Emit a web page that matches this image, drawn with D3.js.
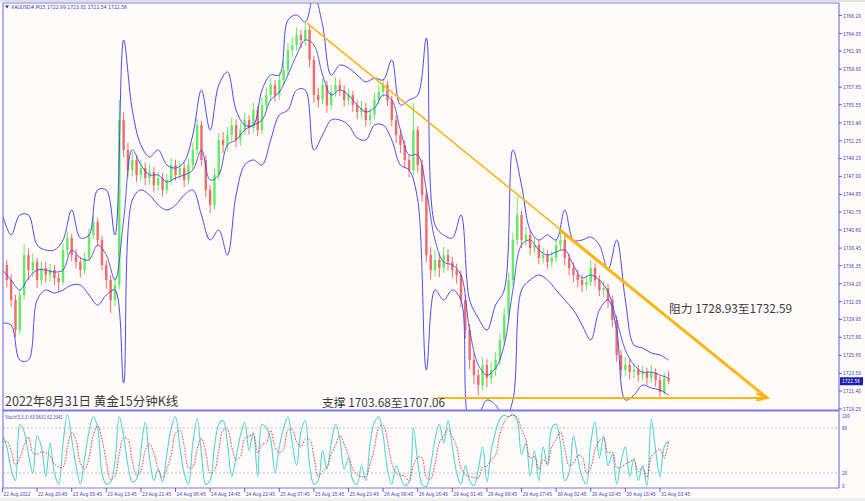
<!DOCTYPE html>
<html><head><meta charset="utf-8">
<script src="https://cdn.jsdelivr.net/npm/d3@7"></script>
<style>html,body{margin:0;padding:0;background:#f0f0f0;overflow:hidden;} svg{display:block;}</style>
</head><body><svg id="c" width="865" height="501"></svg>
<script>
// ---------- DATA (hourly aggregated XAUUSD candles) ----------
const opens = [1736.00,1736.43,1734.64,1732.25,1728.67,1732.85,1737.62,1735.83,1736.79,1734.64,
1736.07,1735.24,1735.83,1734.88,1734.40,1738.22,1739.65,1737.62,1736.79,1735.83,
1737.26,1740.01,1741.56,1739.41,1736.43,1734.64,1732.25,1734.04,1753.73,1750.15,
1747.76,1748.96,1747.17,1748.00,1746.81,1747.53,1745.97,1746.81,1745.38,1746.57,
1748.36,1747.17,1748.00,1746.57,1748.36,1750.15,1753.13,1748.96,1745.38,1743.59,
1747.17,1751.35,1750.75,1751.94,1753.13,1751.35,1752.54,1753.73,1752.78,1754.92,
1752.54,1755.52,1756.71,1757.91,1756.71,1758.50,1759.70,1762.08,1762.68,1763.87,
1763.28,1764.47,1760.89,1756.71,1756.12,1757.91,1755.52,1757.07,1757.91,1757.31,
1756.12,1756.71,1755.52,1754.69,1755.16,1753.73,1754.33,1756.12,1757.07,1757.91,
1756.12,1753.73,1751.94,1750.75,1748.96,1747.76,1752.54,1748.36,1744.78,1737.62,
1735.83,1737.02,1736.07,1737.62,1736.79,1735.83,1735.24,1732.25,1728.67,1725.09,
1723.30,1722.11,1724.50,1722.95,1723.90,1725.09,1727.48,1730.46,1734.64,1739.41,
1742.40,1739.41,1740.01,1738.46,1738.82,1737.26,1737.62,1736.79,1737.26,1738.82,
1739.41,1737.26,1736.07,1735.24,1734.64,1734.04,1734.40,1736.07,1734.64,1733.45,
1733.68,1732.25,1729.87,1725.69,1723.90,1724.50,1723.66,1723.90,1723.30,1723.66,
1722.95,1723.66,1722.71,1721.27,1722.95];
const highs = [1737.4,1737.0,1735.3,1732.9,1733.6,1738.9,1738.4,1737.8,1737.3,1736.9,
1736.8,1736.6,1736.4,1735.5,1739.0,1740.4,1740.1,1738.3,1737.4,1738.0,
1740.8,1742.4,1742.0,1739.9,1737.0,1735.2,1735.0,1756.1,1754.6,1751.0,
1749.9,1749.6,1749.0,1748.7,1748.5,1748.1,1747.6,1747.4,1747.3,1749.2,
1749.0,1748.8,1748.6,1749.1,1751.0,1753.9,1753.6,1749.5,1746.0,1748.0,
1752.2,1752.3,1752.9,1754.0,1753.8,1753.4,1754.6,1754.3,1755.8,1755.4,
1756.4,1757.6,1758.8,1758.5,1759.4,1760.6,1762.9,1763.6,1764.8,1764.5,
1765.3,1765.0,1761.4,1757.6,1758.7,1758.4,1757.9,1758.8,1758.6,1757.9,
1757.5,1757.2,1756.1,1756.0,1755.8,1755.2,1757.0,1757.9,1758.7,1758.4,
1756.6,1754.3,1752.6,1751.3,1749.6,1755.8,1753.0,1749.0,1745.4,1738.6,
1738.2,1737.8,1738.6,1738.3,1737.4,1736.6,1735.8,1732.9,1729.4,1725.9,
1724.0,1725.4,1725.2,1724.8,1726.0,1728.3,1731.3,1735.5,1740.3,1744.6,
1742.9,1741.0,1740.6,1739.7,1739.4,1738.5,1738.2,1738.1,1739.7,1740.4,
1739.9,1737.8,1736.7,1735.9,1735.3,1735.2,1737.0,1736.6,1735.2,1734.5,
1734.2,1732.8,1730.4,1726.3,1725.4,1725.2,1724.7,1724.5,1724.4,1724.2,
1724.5,1724.1,1723.2,1723.6,1723.8];
const lows = [1735.2,1733.8,1731.4,1727.8,1728.2,1732.3,1734.6,1735.0,1733.7,1734.0,
1734.3,1734.5,1734.0,1733.2,1734.0,1737.6,1736.9,1736.0,1735.0,1735.3,
1736.9,1739.5,1738.6,1735.8,1733.6,1730.7,1731.5,1733.5,1749.3,1746.9,
1747.0,1746.3,1746.5,1745.9,1746.0,1745.1,1745.3,1744.6,1744.9,1746.0,
1746.5,1746.6,1745.7,1746.0,1747.8,1749.6,1748.2,1744.5,1742.6,1743.0,
1746.6,1749.8,1750.0,1751.2,1750.5,1750.7,1752.0,1752.0,1752.2,1751.8,
1752.0,1755.0,1756.0,1755.9,1756.1,1757.9,1759.1,1761.3,1762.0,1762.3,
1762.6,1760.0,1755.8,1755.2,1755.6,1754.6,1755.0,1756.5,1756.6,1755.3,
1755.5,1754.7,1753.8,1754.0,1752.9,1753.1,1753.8,1755.6,1756.5,1755.4,
1753.0,1751.0,1749.8,1748.0,1746.9,1747.2,1747.5,1744.0,1736.8,1734.7,
1735.1,1735.0,1735.5,1735.8,1734.9,1734.2,1731.4,1727.6,1724.0,1722.2,
1720.9,1721.5,1721.8,1722.2,1723.2,1724.5,1726.9,1729.9,1734.0,1738.8,
1738.5,1738.7,1737.6,1737.8,1736.5,1736.6,1736.0,1736.2,1736.7,1738.2,
1736.4,1735.2,1734.4,1733.8,1733.2,1733.4,1733.9,1733.9,1732.7,1732.6,
1731.3,1729.0,1724.9,1723.0,1723.2,1722.8,1722.9,1722.5,1722.7,1722.1,
1722.4,1721.9,1720.7,1720.9,1722.2];
const closes = [1736.43,1734.64,1732.25,1728.67,1732.85,1737.62,1735.83,1736.79,1734.64,1736.07,
1735.24,1735.83,1734.88,1734.40,1738.22,1739.65,1737.62,1736.79,1735.83,1737.26,
1740.01,1741.56,1739.41,1736.43,1734.64,1732.25,1734.04,1753.73,1750.15,1747.76,
1748.96,1747.17,1748.00,1746.81,1747.53,1745.97,1746.81,1745.38,1746.57,1748.36,
1747.17,1748.00,1746.57,1748.36,1750.15,1753.13,1748.96,1745.38,1743.59,1747.17,
1751.35,1750.75,1751.94,1753.13,1751.35,1752.54,1753.73,1752.78,1754.92,1752.54,
1755.52,1756.71,1757.91,1756.71,1758.50,1759.70,1762.08,1762.68,1763.87,1763.28,
1764.47,1760.89,1756.71,1756.12,1757.91,1755.52,1757.07,1757.91,1757.31,1756.12,
1756.71,1755.52,1754.69,1755.16,1753.73,1754.33,1756.12,1757.07,1757.91,1756.12,
1753.73,1751.94,1750.75,1748.96,1747.76,1752.54,1748.36,1744.78,1737.62,1735.83,
1737.02,1736.07,1737.62,1736.79,1735.83,1735.24,1732.25,1728.67,1725.09,1723.30,
1722.11,1724.50,1722.95,1723.90,1725.09,1727.48,1730.46,1734.64,1739.41,1742.40,
1739.41,1740.01,1738.46,1738.82,1737.26,1737.62,1736.79,1737.26,1738.82,1739.41,
1737.26,1736.07,1735.24,1734.64,1734.04,1734.40,1736.07,1734.64,1733.45,1733.68,
1732.25,1729.87,1725.69,1723.90,1724.50,1723.66,1723.90,1723.30,1723.66,1722.95,
1723.66,1722.71,1721.27,1722.95,1722.56];

// Bollinger bands, sampled every 2 candles
const BAND_STEP = 2;
const bbUpper = [1742.40,1740.01,1742.40,1742.40,1738.82,1738.22,1738.22,1739.41,1742.99,1739.65,
1740.01,1745.38,1745.38,1740.01,1763.28,1754.92,1750.75,1749.32,1750.15,1748.36,
1748.00,1748.72,1751.94,1757.31,1752.54,1757.91,1759.46,1754.92,1753.13,1753.13,
1757.31,1759.10,1759.10,1765.66,1766.26,1765.42,1768.65,1765.07,1759.10,1760.29,
1759.94,1759.10,1758.27,1758.74,1758.50,1760.89,1755.52,1756.12,1756.71,1763.52,
1741.20,1740.01,1739.65,1742.40,1732.25,1730.11,1728.67,1731.66,1733.45,1750.15,
1745.97,1740.60,1739.41,1740.01,1739.41,1742.99,1739.41,1739.41,1739.77,1738.82,
1735.83,1739.41,1732.25,1726.88,1726.53,1725.93,1725.69,1725.09];
const bbMiddle = [1735.83,1734.64,1733.45,1734.88,1735.83,1735.83,1735.59,1735.83,1738.22,1737.27,
1737.03,1738.82,1737.62,1734.64,1741.80,1750.15,1748.36,1747.17,1747.17,1746.33,
1746.81,1747.17,1747.76,1750.15,1746.57,1747.17,1750.75,1751.35,1752.54,1753.13,
1753.73,1756.12,1757.07,1759.10,1761.49,1763.28,1762.68,1759.10,1756.71,1757.31,
1756.71,1755.52,1754.69,1755.16,1756.71,1756.12,1752.54,1749.56,1749.56,1745.38,
1739.41,1736.79,1736.43,1735.24,1728.67,1724.50,1723.30,1724.14,1726.88,1733.45,
1738.82,1739.41,1738.22,1737.62,1737.98,1738.22,1736.43,1734.88,1735.24,1734.64,
1733.21,1729.87,1726.29,1724.50,1723.66,1723.66,1723.30,1722.95];
const bbLower = [1729.51,1729.27,1725.09,1725.09,1732.25,1733.45,1733.09,1733.45,1734.04,1734.04,
1732.85,1731.66,1732.85,1733.45,1722.35,1744.18,1745.38,1744.78,1743.59,1742.99,
1743.59,1744.78,1745.38,1742.40,1739.41,1740.60,1737.62,1744.78,1748.36,1748.96,
1748.36,1751.35,1754.33,1754.92,1757.31,1757.31,1750.15,1751.94,1753.73,1753.73,
1753.13,1751.58,1751.35,1753.13,1753.13,1751.35,1748.36,1747.76,1744.18,1723.90,
1733.45,1732.25,1733.45,1732.25,1717.94,1718.53,1720.32,1719.73,1717.94,1720.32,
1733.45,1734.64,1735.24,1734.64,1733.45,1732.25,1731.06,1729.27,1727.48,1731.06,
1732.25,1728.67,1720.32,1720.92,1722.11,1721.75,1721.52,1720.92];

// Stochastic (5,3,3)
const stochK = [70,55,25,10,85,75,45,20,70,55,15,60,20,5,60,98,65,30,5,40,
75,95,80,20,5,8,35,95,70,30,8,12,50,88,40,10,25,8,45,80,
95,55,20,5,60,92,45,5,10,55,85,90,60,15,40,70,88,50,75,15,
85,80,65,20,55,80,95,60,30,75,90,30,5,10,50,25,60,85,65,25,
40,10,5,30,10,60,88,95,70,25,5,30,15,3,8,80,35,5,2,30,
65,85,60,90,55,20,5,30,10,3,25,55,8,50,75,92,97,95,98,90,
45,60,15,50,10,55,30,80,85,60,10,20,70,40,15,5,60,88,40,70,
30,45,5,35,55,15,40,10,30,3,92,50,15,55,63.0631];
const stochD = [60,62,50,30,40,57,68,47,45,48,47,43,32,28,28,54,74,64,33,25,
40,70,83,65,35,11,16,46,67,65,36,17,23,50,59,46,25,14,26,44,
73,77,57,27,28,52,66,47,20,23,50,77,78,55,38,42,66,69,71,47,
58,60,77,55,47,52,77,78,62,55,65,65,42,15,22,28,45,57,70,58,
43,25,18,15,15,33,53,81,84,63,33,20,17,16,9,30,41,40,14,12,
32,60,70,78,68,55,27,18,15,14,13,28,29,38,44,72,88,95,97,94,
78,65,40,42,25,38,32,55,65,75,52,30,33,43,42,20,27,51,63,66,
47,48,27,28,32,35,37,22,27,14,42,48,52,40,62.3341];

const priceTicks = [1766.20,1764.05,1761.95,1759.80,1757.65,1755.55,1753.40,1751.25,1749.15,1747.00,
1744.85,1742.75,1740.60,1738.45,1736.35,1734.20,1732.05,1729.95,1727.80,1725.65,1723.50,1721.40,1719.25];
const stochTicks = [100,80,20,0];
const stochLevels = [80,20];
const timeLabels = ["22 Aug 2022","22 Aug 20:45","23 Aug 05:45","23 Aug 13:45","23 Aug 21:45","24 Aug 06:45",
"24 Aug 14:45","24 Aug 22:45","25 Aug 07:45","25 Aug 15:45","25 Aug 23:45","26 Aug 08:45","26 Aug 16:45",
"29 Aug 01:45","29 Aug 09:45","29 Aug 17:45","30 Aug 02:45","30 Aug 10:45","30 Aug 18:45","31 Aug 03:45"];
const timeLabelIndex = [0,8,16,24,32,40,48,56,64,72,80,88,96,104,112,120,128,136,144,152];
const lastPrice = 1722.56;
const header = "XAUUSD#,M15  1722.99 1723.01 1722.54 1722.56";
const stochTitle = "Stoch(5,3,3) 63.0631 62.3341";
// trend annotations (candle index, price)
const resistanceLine = [[70.4,1765.3],[176.8,1720.56]];
const resistanceThick = [[128.9,1740.58],[176.8,1720.56]];
const supportLine = [[100.5,1720.56],[176.8,1720.56]];
const titleText = "2022年8月31日 黄金15分钟K线";
const supportText = "支撑 1703.68至1707.06";
const resistText = "阻力 1728.93至1732.59";

// ---------- DRAW ----------
const W = 865, H = 501;
const L = 3, R = 839, T = 3, MB = 410, ST = 412, SB = 488;
const svg = d3.select('#c');
const axisFont = "'DejaVu Sans',sans-serif";
const axisColor = '#3c3cb4';
const frameColor = '#7a7ae8';

svg.append('rect').attr('x',0).attr('y',0).attr('width',W).attr('height',H).attr('fill','#f0f0f0');
svg.append('rect').attr('x',0).attr('y',2).attr('width',W).attr('height',496).attr('fill','#fffbfb');

const x = d3.scaleLinear().domain([0,193.4]).range([2.5,839]);
const y = d3.scaleLinear().domain([1719.25,1766.20]).range([409,15.5]);
const ys = d3.scaleLinear().domain([0,100]).range([488,413]);

const defs = svg.append('defs');
defs.append('clipPath').attr('id','cm').append('rect').attr('x',L).attr('y',T).attr('width',R-L).attr('height',MB-T);
defs.append('clipPath').attr('id','cs').append('rect').attr('x',L).attr('y',ST).attr('width',R-L).attr('height',SB-ST);

function smallText(g, tx, ty, str, len, fill){
  const t = g.append('text').attr('x',tx).attr('y',ty).attr('font-family',axisFont).attr('font-size',5.6)
    .attr('fill',fill || axisColor).text(str);
  if (len) t.attr('textLength',len).attr('lengthAdjust','spacingAndGlyphs');
  return t;
}

const main = svg.append('g').attr('clip-path','url(#cm)');

// candles
const bull = '#62ec62', bear = '#f26a6a';
const candles = main.append('g');
closes.forEach((c,i)=>{
  const o = opens[i];
  const col = c >= o ? bull : bear;
  const cx = x(i);
  candles.append('line').attr('x1',cx).attr('x2',cx)
    .attr('y1',y(highs[i])).attr('y2',y(lows[i])).attr('stroke',col).attr('stroke-width',1);
  const top = y(Math.max(o,c)), bot = y(Math.min(o,c));
  candles.append('rect').attr('x',cx-1.2).attr('width',2.4)
    .attr('y',top).attr('height',Math.max(1,bot-top)).attr('fill',col);
});

// bollinger bands
const bandLine = d3.line().x((d,k)=>x(k*BAND_STEP)).y(d=>y(d)).curve(d3.curveCatmullRom.alpha(0.5));
main.append('path').attr('d',bandLine(bbUpper)).attr('fill','none').attr('stroke','#4b4bf5').attr('stroke-width',1);
main.append('path').attr('d',bandLine(bbLower)).attr('fill','none').attr('stroke','#4b4bf5').attr('stroke-width',1);
main.append('path').attr('d',bandLine(bbMiddle)).attr('fill','none').attr('stroke','#4848e8').attr('stroke-width',0.9);

// trend lines
const tl = d3.line().x(d=>x(d[0])).y(d=>y(d[1]));
const gold = '#fbb514';
main.append('path').attr('d',tl(resistanceLine)).attr('stroke',gold).attr('stroke-width',1.6).attr('fill','none');
main.append('path').attr('d',tl(resistanceThick)).attr('stroke',gold).attr('stroke-width',3).attr('fill','none');
main.append('path').attr('d',tl(supportLine)).attr('stroke',gold).attr('stroke-width',1.8).attr('fill','none');
const ex = x(supportLine[1][0]), ey = y(supportLine[1][1]);
main.append('path').attr('d',`M${ex-11},${ey-4.5} L${ex},${ey} L${ex-11},${ey+2.5}`)
  .attr('stroke',gold).attr('stroke-width',2.2).attr('fill','none').attr('stroke-linejoin','miter');

// annotation texts
const cjk = "'Noto Sans CJK SC','Noto Sans',sans-serif";
svg.append('text').attr('x',5).attr('y',406).attr('font-family',cjk).attr('font-size',12.5)
  .attr('fill','#3a3a3a').text(titleText);
svg.append('text').attr('x',322).attr('y',407).attr('font-family',cjk).attr('font-size',11.8)
  .attr('fill','#3a3a3a').text(supportText);
svg.append('text').attr('x',669).attr('y',313).attr('font-family',cjk).attr('font-size',11.8)
  .attr('fill','#3a3a3a').text(resistText);

// stochastic panel
const stoch = svg.append('g').attr('clip-path','url(#cs)');
stochLevels.forEach(v=>{
  stoch.append('line').attr('x1',L).attr('x2',R).attr('y1',ys(v)).attr('y2',ys(v))
    .attr('stroke','#bdbdbd').attr('stroke-width',1).attr('stroke-dasharray','2,2');
});
const sl = d3.line().x((d,i)=>x(i)).y(d=>ys(d)).curve(d3.curveCatmullRom.alpha(0.5));
stoch.append('path').attr('d',sl(stochK)).attr('fill','none').attr('stroke','#52d6cc').attr('stroke-width',1.1);
stoch.append('path').attr('d',sl(stochD)).attr('fill','none').attr('stroke','#f03a3a').attr('stroke-width',1).attr('stroke-dasharray','1.5,1.5');
smallText(svg, 5, 419, stochTitle, 58);

// frames
svg.append('line').attr('x1',L).attr('x2',L).attr('y1',T).attr('y2',SB).attr('stroke',frameColor).attr('stroke-width',1.2);
svg.append('line').attr('x1',R).attr('x2',R).attr('y1',T).attr('y2',SB).attr('stroke',frameColor).attr('stroke-width',1.2);
svg.append('line').attr('x1',L).attr('x2',R).attr('y1',T).attr('y2',T).attr('stroke',frameColor).attr('stroke-width',1);
svg.append('line').attr('x1',L).attr('x2',R).attr('y1',MB+0.5).attr('y2',MB+0.5).attr('stroke',frameColor).attr('stroke-width',2);
svg.append('line').attr('x1',L).attr('x2',R).attr('y1',SB).attr('y2',SB).attr('stroke',frameColor).attr('stroke-width',1.2);
svg.append('line').attr('x1',0).attr('x2',W).attr('y1',1).attr('y2',1).attr('stroke','#cfcfcf').attr('stroke-width',1);

// header
svg.append('path').attr('d','M5,5.5 L9,5.5 L7,8.5 Z').attr('fill','#3030a0');
smallText(svg, 11, 9, header, 116);

// right price axis
const ra = svg.append('g');
priceTicks.forEach(v=>{
  const py = y(v);
  ra.append('line').attr('x1',R).attr('x2',R+3).attr('y1',py).attr('y2',py).attr('stroke',axisColor).attr('stroke-width',0.8);
  smallText(ra, R+4, py+2, v.toFixed(2), 18);
});
const lp = y(lastPrice);
ra.append('rect').attr('x',R+1).attr('y',lp-4).attr('width',23).attr('height',8).attr('fill','#1d1db4');
smallText(ra, R+3, lp+2, lastPrice.toFixed(2), 18, '#ffffff');

// stoch axis
stochTicks.forEach(v=>{
  const py = Math.min(Math.max(ys(v), ST+4), SB-2);
  smallText(ra, R+3, py+2, String(v), String(v).length*2.6);
});

// time axis
const ta = svg.append('g');
timeLabels.forEach((lab,k)=>{
  const tx = x(timeLabelIndex[k]);
  ta.append('line').attr('x1',tx).attr('x2',tx).attr('y1',SB).attr('y2',SB+4).attr('stroke',axisColor).attr('stroke-width',0.8);
  smallText(ta, tx+1, 496, lab, lab.length*2.45);
});
</script>
</body></html>
